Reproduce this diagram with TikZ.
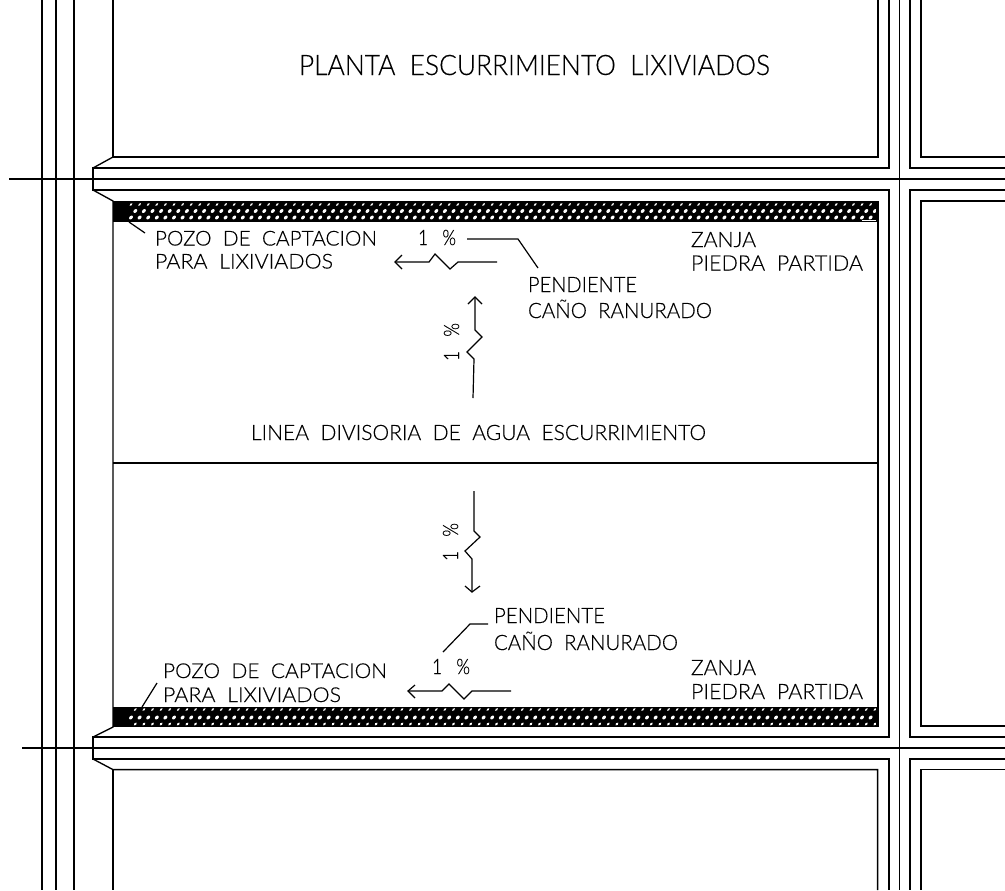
\documentclass[tikz,border=0pt]{standalone}
\usepackage{fontspec}
\setmainfont{Lato}[UprightFont=* Light,UprightFeatures={FakeBold=0.25}]
\usepackage{graphicx}
\newcommand{\cadtxt}[3]{\resizebox{\dimexpr #1pt*3/4\relax}{\dimexpr #2pt*3/4\relax}{\fontsize{14}{14}\selectfont\vphantom{H}\smash{#3}}}
\tikzset{
  wall/.style={line width=1pt,line cap=butt,line join=miter},
  thinl/.style={line width=0.9pt,line cap=butt,line join=miter},
  cadlabel/.style={inner sep=0pt,outer sep=0pt,anchor=south west},
  cadrot/.style={inner sep=0pt,outer sep=0pt,anchor=south west,rotate=90},
}
\begin{document}
\begin{tikzpicture}[x=0.75pt,y=-0.75pt]
\useasboundingbox (0,0) rectangle (1005,890);
% gravel bands
\fill[black] (113,201) rectangle (878,222);
\fill[black] (113,707) rectangle (878,727);
\foreach \i in {0,...,87}{
  \pgfmathsetmacro{\xa}{131+8.6*\i}
  \pgfmathsetmacro{\xb}{135.3+8.6*\i}
  \fill[white,rotate around={45:(\xa,204.5)}] (\xa,204.5) ellipse (1.9 and 1.0);
  \fill[white,rotate around={45:(\xb,211)}] (\xb,211) ellipse (2.3 and 1.6);
  \fill[white,rotate around={45:(\xa,217.5)}] (\xa,217.5) ellipse (2.3 and 1.6);
  \fill[white,rotate around={45:(\xb,709.5)}] (\xb,709.5) ellipse (1.9 and 1.0);
  \fill[white,rotate around={45:(\xa,717.5)}] (\xa,717.5) ellipse (2.3 and 1.6);
  \fill[white,rotate around={45:(\xb,724)}] (\xb,724) ellipse (1.9 and 1.2);
}
\fill[black] (113,201) rectangle (129,222);
\fill[black] (113,707) rectangle (129,727);
\fill[black] (876,201) rectangle (878,222);
\fill[black] (876,707) rectangle (878,727);
\fill[white] (862,219.5) rectangle (876,221);
% left verticals
\foreach \x in {42,56,74}{\draw[thinl] (\x,0) -- (\x,890);}
% centre lines
\draw[wall] (9,179) -- (1005,179);
\draw[wall] (22,748) -- (1005,748);
\draw[wall] (899.5,0) -- (899.5,890);
% top block
\draw[wall] (113,0) -- (113,157) -- (878,157) -- (878,0);
\draw[wall] (889,0) -- (889,168) -- (93,168) -- (93,190) -- (889,190) -- (889,737) -- (93,737) -- (93,759) -- (889,759) -- (889,890);
\draw[wall] (113,157) -- (93,168);
\draw[wall] (93,190) -- (113,201) -- (113,727) -- (93,737);
\draw[wall] (93,759) -- (113,769.6) -- (877.6,769.6) -- (877.6,890);
\draw[wall] (113,769.6) -- (113,890);
\draw[wall] (878,201) -- (878,727);
\draw[wall] (113,463) -- (878,463);
% right side
\draw[wall] (910,0) -- (910,168) -- (1005,168);
\draw[wall] (921,0) -- (921,157) -- (1005,157);
\draw[wall] (1005,190) -- (910,190) -- (910,737) -- (1005,737);
\draw[wall] (1005,201) -- (921,201) -- (921,726) -- (1005,726);
\draw[wall] (1005,759) -- (910,759) -- (910,890);
\draw[wall] (1005,769.6) -- (921,769.6) -- (921,890);
% texts
\node[cadlabel] (titulo) at (299,75) {\cadtxt{471}{20}{PLANTA\ \ ESCURRIMIENTO\ \ LIXIVIADOS}};
\node[cadlabel] (pozoA) at (155,245.5) {\cadtxt{222}{14.5}{POZO\ \ DE\ \ CAPTACION}};
\node[cadlabel] (paraA) at (155,268.5) {\cadtxt{178}{14.5}{PARA\ \ LIXIVIADOS}};
\node[cadlabel] (pctA) at (418,245) {\cadtxt{38}{15}{1\ \ \ \%}};
\node[cadlabel] (zanjaA) at (691,247) {\cadtxt{65}{15}{ZANJA}};
\node[cadlabel] (piedraA) at (691,270.5) {\cadtxt{172}{15}{PIEDRA\ \ PARTIDA}};
\node[cadlabel] (pendA) at (528,292) {\cadtxt{109}{15}{PENDIENTE}};
\node[cadlabel] (canoA) at (528,318) {\cadtxt{184}{15}{CAÑO\ \ RANURADO}};
\node[cadrot] (pctB) at (459,361) {\cadtxt{38}{15}{1\ \ \ \%}};
\node[cadlabel] (linea) at (251,440) {\cadtxt{455}{15}{LINEA\ \ DIVISORIA\ \ DE\ \ AGUA\ \ ESCURRIMIENTO}};
\node[cadrot] (pctC) at (458,561) {\cadtxt{38}{15}{1\ \ \ \%}};
\node[cadlabel] (pendB) at (494,623) {\cadtxt{111}{15}{PENDIENTE}};
\node[cadlabel] (canoB) at (494,650) {\cadtxt{184}{15}{CAÑO\ \ RANURADO}};
\node[cadlabel] (pctD) at (432,674) {\cadtxt{38}{15}{1\ \ \ \%}};
\node[cadlabel] (pozoB) at (163,678) {\cadtxt{224}{14.5}{POZO\ \ DE\ \ CAPTACION}};
\node[cadlabel] (paraB) at (163,702) {\cadtxt{178}{14.5}{PARA\ \ LIXIVIADOS}};
\node[cadlabel] (zanjaB) at (691,675) {\cadtxt{65}{15}{ZANJA}};
\node[cadlabel] (piedraB) at (691,699) {\cadtxt{172}{15}{PIEDRA\ \ PARTIDA}};
% leaders
\draw[thinl] (129,222) -- (145,233);
\draw[thinl] (142,707) -- (157,683);
\draw[thinl] (467,239) -- (518,239) -- (538,268);
\draw[thinl] (443,652) -- (470,624) -- (488,624);
% slope arrows
\draw[thinl] (402,255) -- (395,262) -- (402,269);
\draw[thinl] (395,262) -- (429,262) -- (435,254) -- (450,269) -- (458,262) -- (497,262);
\draw[thinl] (468,304) -- (475,297) -- (482,304);
\draw[thinl] (475,297) -- (475,330) -- (482,337) -- (467,352) -- (474,359) -- (473,398);
\draw[thinl] (474,491) -- (474,531) -- (480,537) -- (465,551) -- (472,559) -- (472,592);
\draw[thinl] (465,586) -- (472,592) -- (480,586);
\draw[thinl] (415,685) -- (408,691) -- (415,698);
\draw[thinl] (408,691) -- (442,691) -- (449,684) -- (464,699) -- (472,691) -- (511,691);
\end{tikzpicture}
\end{document}
